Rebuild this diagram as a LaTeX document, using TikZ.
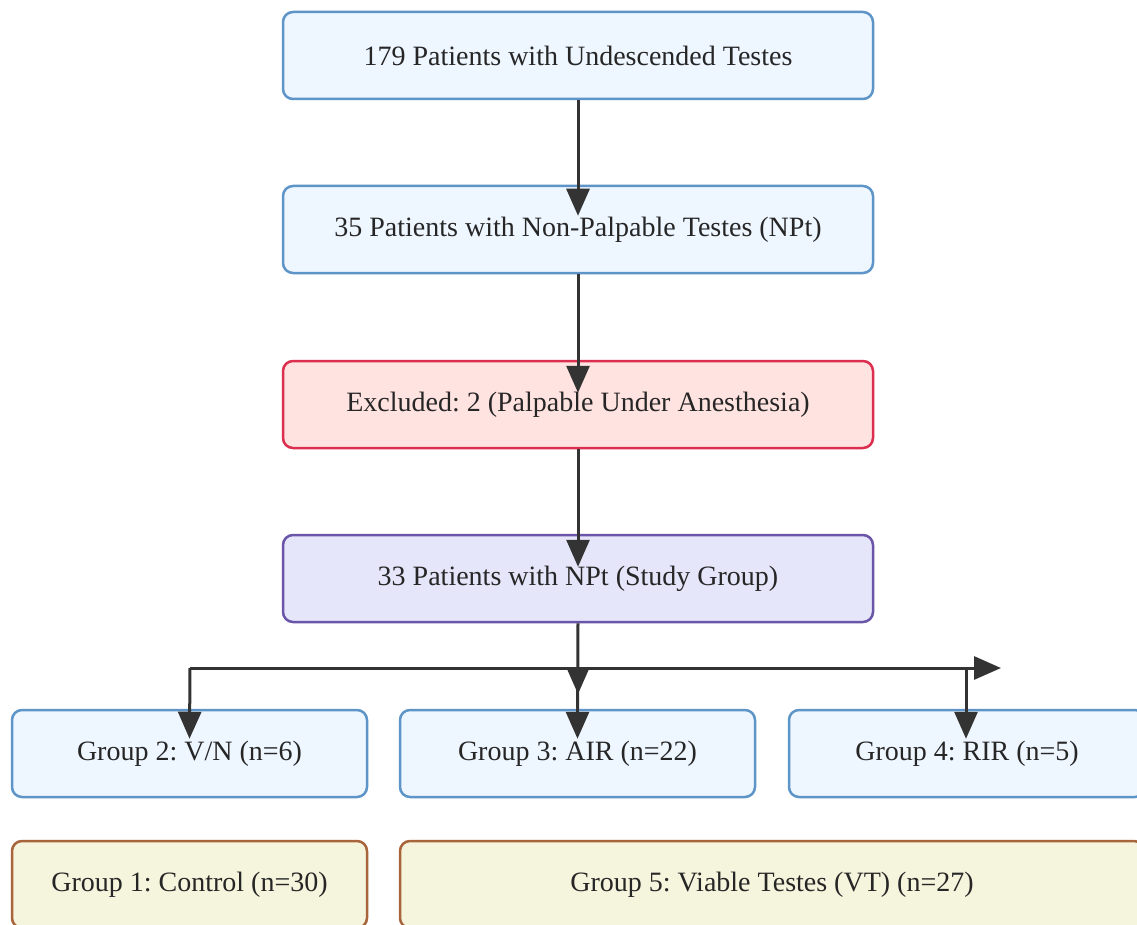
\documentclass[tikz,border=0pt]{standalone}
\usepackage{fontspec}
\setmainfont{Liberation Serif}
\frenchspacing
\usetikzlibrary{arrows.meta}
\definecolor{bluefill}{HTML}{EEF6FF}
\definecolor{blueline}{HTML}{5E95C8}
\definecolor{redfill}{HTML}{FFE3E1}
\definecolor{redline}{HTML}{DC2E4E}
\definecolor{purfill}{HTML}{E6E6FA}
\definecolor{purline}{HTML}{6A55A8}
\definecolor{begfill}{HTML}{F5F4DC}
\definecolor{begline}{HTML}{A8643A}
\definecolor{edge}{HTML}{333333}
\tikzset{
  box/.style={draw, rounded corners=10pt, line width=2.5pt, align=center,
    font=\fontsize{28}{32}\selectfont, text=black!85, inner sep=0pt},
  bluebox/.style={box, fill=bluefill, draw=blueline},
  redbox/.style={box, fill=redfill, draw=redline},
  purbox/.style={box, fill=purfill, draw=purline},
  begbox/.style={box, fill=begfill, draw=begline},
  wide/.style={minimum width=590pt, minimum height=87pt},
  grp/.style={minimum width=355pt, minimum height=87pt},
  conn/.style={draw=edge, line width=3pt, -{Triangle[length=27pt,width=23pt]}},
  plain/.style={draw=edge, line width=3pt},
}
\begin{document}
\begin{tikzpicture}[x=1pt,y=-1pt]
\clip (0,0) rectangle (1137,925);
\fill[white] (0,0) rectangle (1137,925);
\node[bluebox, wide] (A) at (578,55.5) {179 Patients with Undescended Testes};
\node[bluebox, wide] (B) at (578,229.5) {35 Patients with Non-Palpable Testes (NPt)};
\node[redbox, wide] (C) at (578,404.5) {Excluded: 2 (Palpable Under Anesthesia)};
\node[purbox, wide] (D) at (578,578.5) {33 Patients with NPt (Study Group)};
\node[bluebox, grp] (G2) at (189.5,753.5) {Group 2: V/N (n=6)};
\node[bluebox, grp] (G3) at (577.5,753.5) {Group 3: AIR (n=22)};
\node[bluebox, grp, minimum width=356pt] (G4) at (967,753.5) {Group 4: RIR (n=5)};
\node[begbox, grp] (G1) at (189.5,884.5) {Group 1: Control (n=30)};
\node[begbox, minimum width=744pt, minimum height=87pt] (G5) at (772,884.5) {Group 5: Viable Testes (VT) (n=27)};
\coordinate (jl) at (190,668);
\coordinate (jc) at (578,668);
\coordinate (jm) at (578,694);
\coordinate (jr) at (966,668);
\coordinate (je) at (1001,668);
\draw[conn] (A.south) -- ([yshift=-31pt]B.north);
\draw[conn] (B.south) -- ([yshift=-33pt]C.north);
\draw[conn] (C.south) -- ([yshift=-33pt]D.north);
\draw[plain] (D.south) -- (G3.north);
\draw[plain] (jl) -- (jr);
\draw[conn] (jr) -- (je);
\draw[conn] (jc) -- (jm);
\draw[conn] (G3.north) -- ([yshift=-30pt]G3.north);
\draw[conn] (jl) -- ([yshift=-30pt]G2.north);
\draw[conn] (jr) -- ([yshift=-30pt]G4.north -| jr);
\end{tikzpicture}
\end{document}
